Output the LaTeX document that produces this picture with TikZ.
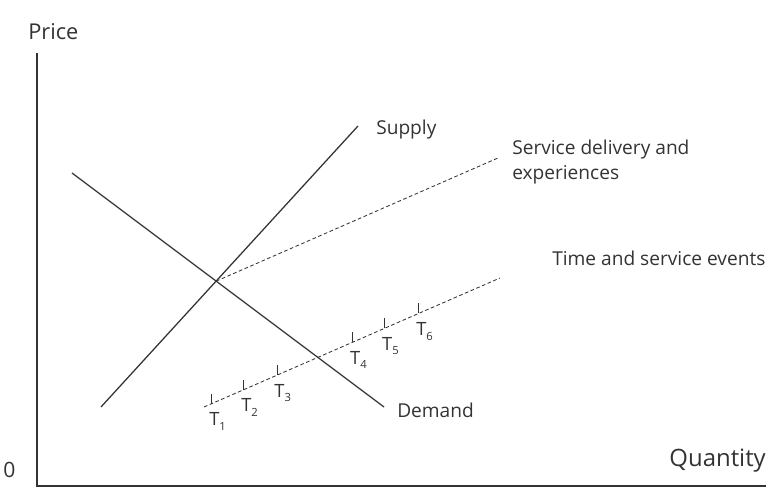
\documentclass[tikz,border=0pt]{standalone}
\usepackage{fontspec}
\setmainfont{Open Sans}
\usepackage{tikz}
\usetikzlibrary{positioning}

\definecolor{inkgray}{HTML}{333333}

\begin{document}
\begin{tikzpicture}[x=0.025cm, y=-0.025cm,
        axis/.style={line width=1.5pt, draw=inkgray},
        curve/.style={line width=0.9pt, draw=inkgray},
        trend/.style={line width=0.6pt, draw=inkgray, dash pattern=on 2.6pt off 1.8pt},
        tick/.style={line width=0.7pt, draw=inkgray},
        lbl/.style={inner sep=0pt, text=inkgray, font=\fontsize{13.6}{18.4}\selectfont},
        tlbl/.style={inner sep=0pt, text=inkgray, font=\fontsize{13}{15}\selectfont}
    ]
        \useasboundingbox (0,0) rectangle (771,490);

        % axes
        \coordinate (O) at (37,486);
        \coordinate (Ytop) at (37,53);
        \coordinate (Xend) at (766,486);
        \draw[axis] (Ytop) -- (O) -- (Xend);
        \node[lbl, anchor=west, font=\fontsize{15.5}{18}\selectfont] (price) at (28,32) {Price};
        \node[lbl, anchor=west, font=\fontsize{15}{18}\selectfont] (zero) at (3,470) {0};
        \node[lbl, anchor=east, font=\fontsize{17}{20}\selectfont] (qty) at (766,461) {Quantity};

        % supply and demand
        \coordinate (S1) at (101,407);
        \coordinate (S2) at (358,126);
        \coordinate (D1) at (72,173);
        \coordinate (D2) at (384,407);
        \draw[curve] (S1) -- (S2);
        \draw[curve] (D1) -- (D2);
        \coordinate (E) at (intersection of S1--S2 and D1--D2);
        \node[lbl, anchor=west] (supply) at (376,130) {Supply};
        \node[lbl, anchor=west] (demand) at (397,410) {Demand};

        % service delivery
        \coordinate (SD) at (498,158);
        \draw[trend] (E) -- (SD);
        \node[lbl, anchor=west, align=left] (sdl) at (512,162) {Service delivery and\\experiences};

        % time and service events
        \coordinate (TA) at (204,407);
        \coordinate (TB) at (500,278);
        \draw[trend] (TA) -- (TB);
        \node[lbl, anchor=west] (tsl) at (552,258) {Time and service events};

        \path (TA) -- (TB)
            coordinate[pos=0.027] (t1) coordinate[pos=0.135] (t2) coordinate[pos=0.247] (t3)
            coordinate[pos=0.503] (t4) coordinate[pos=0.611] (t5) coordinate[pos=0.726] (t6);
        \foreach \i in {1,...,6} {
            \draw[tick] (t\i) -- ++(0,-10);
            \node[tlbl] (tl\i) at (t\i) [yshift=-18*0.025cm, xshift=4pt] {T\raisebox{-0.45ex}{\fontsize{8}{9}\selectfont\i}};
        }

    \end{tikzpicture}
\end{document}
